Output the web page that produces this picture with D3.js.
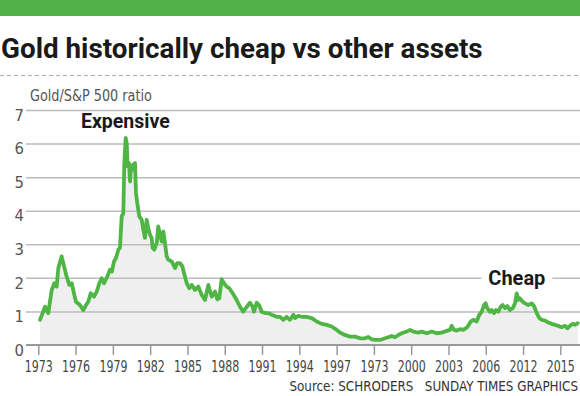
<!DOCTYPE html>
<html>
<head>
<meta charset="utf-8">
<script src="https://cdn.jsdelivr.net/npm/d3@7"></script>
<style>
  html, body { margin: 0; padding: 0; background: #fff; }
  svg { display: block; }
</style>
</head>
<body>
<svg id="chart" width="580" height="396"></svg>
<script>
// ---- Data ----
const title = "Gold historically cheap vs other assets";
const subtitle = "Gold/S&P 500 ratio";
const source = "Source: SCHRODERS\u00a0\u00a0 SUNDAY TIMES GRAPHICS";

const years = [
  1973.14,1973.54,1973.80,1974.08,1974.29,1974.48,1974.61,1974.88,1975.01,1975.28,
  1975.49,1975.69,1975.87,1976.03,1976.35,1976.62,1976.84,1977.02,1977.22,1977.48,
  1977.70,1977.91,1978.10,1978.29,1978.55,1978.77,1978.93,1979.09,1979.25,1979.44,
  1979.57,1979.71,1979.84,1979.92,1980.03,1980.11,1980.19,1980.30,1980.38,1980.46,
  1980.56,1980.64,1980.78,1980.86,1980.96,1981.13,1981.32,1981.45,1981.58,1981.72,
  1981.85,1981.99,1982.12,1982.20,1982.33,1982.53,1982.65,1982.79,1982.93,1983.06,
  1983.19,1983.33,1983.46,1983.73,1984.00,1984.18,1984.40,1984.59,1984.80,1984.94,
  1985.15,1985.34,1985.61,1985.87,1986.15,1986.41,1986.68,1986.95,1987.22,1987.40,
  1987.56,1987.75,1987.94,1988.16,1988.37,1988.64,1988.96,1989.23,1989.49,1989.77,
  1990.03,1990.25,1990.35,1990.57,1990.76,1990.97,1991.24,1991.50,1991.78,1992.18,
  1992.45,1992.71,1992.98,1993.25,1993.52,1993.65,1993.92,1994.19,1994.59,1995.00,
  1995.40,1995.80,1996.20,1996.60,1997.01,1997.27,1997.67,1998.08,1998.48,1998.88,
  1999.28,1999.55,1999.82,2000.22,2000.49,2000.89,2001.16,2001.43,2001.70,2001.96,
  2002.24,2002.64,2002.90,2003.17,2003.57,2003.84,2004.25,2004.65,2005.05,2005.45,
  2005.86,2006.12,2006.26,2006.44,2006.66,2006.93,2007.19,2007.51,2007.79,2008.00,
  2008.27,2008.48,2008.67,2008.86,2008.99,2009.12,2009.34,2009.48,2009.66,2009.82,
  2010.01,2010.20,2010.36,2010.55,2010.73,2010.95,2011.17,2011.35,2011.49,2011.62,
  2011.75,2011.97,2012.16,2012.42,2012.69,2012.88,2013.10,2013.31,2013.50,2013.76,
  2014.03,2014.30,2014.57,2014.83,2015.11,2015.37,2015.56,2015.78,2015.99,2016.18,
  2016.40
];
const ratios = [
  0.75,1.14,0.95,1.64,1.84,1.74,2.29,2.64,2.44,2.04,
  1.79,1.84,1.54,1.29,1.19,1.04,1.19,1.29,1.54,1.44,
  1.59,1.84,1.99,1.84,2.04,2.24,2.19,2.49,2.59,2.84,
  2.89,3.83,3.93,5.42,6.17,6.02,5.32,5.42,4.87,5.32,
  5.22,5.37,5.42,4.53,4.23,3.83,3.73,3.43,3.19,3.73,
  3.48,3.28,3.19,2.89,2.84,3.04,3.53,3.28,3.08,3.38,
  3.04,2.64,2.54,2.49,2.29,2.44,2.44,2.34,2.04,1.84,
  1.69,1.79,1.64,1.74,1.49,1.34,1.79,1.44,1.59,1.36,
  1.39,1.96,1.84,1.74,1.69,1.54,1.34,1.14,0.99,1.14,
  1.26,1.14,0.99,1.26,1.19,0.99,0.95,0.95,0.90,0.84,
  0.84,0.75,0.84,0.75,0.90,0.80,0.87,0.84,0.84,0.80,
  0.70,0.63,0.60,0.55,0.45,0.37,0.30,0.25,0.25,0.20,
  0.20,0.24,0.17,0.15,0.15,0.20,0.23,0.27,0.23,0.30,
  0.35,0.40,0.45,0.40,0.37,0.40,0.35,0.40,0.35,0.37,
  0.42,0.45,0.57,0.45,0.43,0.47,0.45,0.53,0.70,0.75,
  0.70,0.90,0.99,1.19,1.24,1.10,0.99,1.04,0.95,1.04,
  0.99,1.14,1.19,1.10,1.16,1.04,1.10,1.24,1.54,1.34,
  1.39,1.29,1.24,1.19,1.24,1.16,0.95,0.80,0.75,0.73,
  0.67,0.63,0.60,0.57,0.53,0.57,0.50,0.57,0.63,0.60,
  0.65
];
const tickYears = [1973,1976,1979,1982,1985,1988,1991,1994,1997,2000,2003,2006,2009,2012,2015];
const tickLabels = ["1973","1976","1979","1982","1985","1988","1991","1994","1997","1973","2000","2003","2006","2012","2015"];
const yTicks = [0,1,2,3,4,5,6,7];
const annotations = [
  { label: "Expensive", year: 1980.0, value: 6.45, box: false },
  { label: "Cheap", year: 2011.5, value: 1.8, box: true }
];

// ---- Drawing ----
const svg = d3.select("#chart");
const W = 580, H = 396;
const GREEN_BAR = "#52b14b";
const LINE = "#4fb545";
const NARROW = "'DejaVu Sans Condensed', 'Liberation Sans Narrow', sans-serif";
const BOLD = "Roboto, 'Liberation Sans', sans-serif";

const x = d3.scaleLinear().domain([1973, 2016.5]).range([38.3, 579]);
const y = d3.scaleLinear().domain([0, 7]).range([345, 110]);
const gridLeft = 26, gridRight = 580;

const data = years.map((yr, i) => ({ yr, v: ratios[i] }));

// squeeze a text horizontally to a target width (condensed look) with a scale transform
function squeeze(sel, width) {
  sel.each(function () {
    const node = this;
    const w = node.getComputedTextLength();
    const k = w > 0 ? Math.min(1, width / w) : 1;
    const tx = +node.getAttribute("x") || 0;
    node.setAttribute("transform", `translate(${tx * (1 - k)},0) scale(${k},1)`);
  });
}

// top green bar
svg.append("rect").attr("x", 0).attr("y", 0).attr("width", W).attr("height", 16).attr("fill", GREEN_BAR);

// title
svg.append("text").attr("x", 1).attr("y", 57.5)
  .attr("font-family", BOLD).attr("font-weight", 700).attr("font-size", 27.8)
  .attr("fill", "#1a1a1a").text(title);

// dashed separator
svg.append("line").attr("x1", 0).attr("x2", W).attr("y1", 75.5).attr("y2", 75.5)
  .attr("stroke", "#aaa").attr("stroke-width", 1).attr("stroke-dasharray", "4 3");

// subtitle
svg.append("text").attr("x", 30).attr("y", 101.5)
  .attr("font-family", NARROW).attr("font-size", 15.5).attr("fill", "#555").text(subtitle)
  .call(squeeze, 122);

// area fill
const area = d3.area().x(d => x(d.yr)).y0(y(0)).y1(d => y(d.v));
svg.append("path").datum(data).attr("d", area).attr("fill", "#efefef");

// gridlines + y labels
const yAxis = d3.axisLeft(y).tickValues(yTicks).tickSize(-(gridRight - gridLeft)).tickFormat(d3.format("d"));
const gy = svg.append("g").attr("transform", `translate(${gridLeft},0)`).call(yAxis);
gy.select(".domain").remove();
gy.selectAll(".tick line").attr("stroke", "#bdbdbd").attr("stroke-width", 1.5)
  .filter(d => d === 0).remove();
gy.selectAll(".tick text").attr("x", -2).attr("dy", "0.62em")
  .attr("font-family", NARROW).attr("font-size", 16.5).attr("fill", "#555");

// x axis
const xAxis = d3.axisBottom(x).tickValues(tickYears).tickSize(10)
  .tickFormat((d, i) => tickLabels[i]);
const gx = svg.append("g").attr("transform", `translate(0,${y(0)})`).call(xAxis);
gx.select(".domain").remove();
gx.append("line").attr("x1", gridLeft).attr("x2", gridRight).attr("y1", 0).attr("y2", 0)
  .attr("stroke", "#999").attr("stroke-width", 2);
gx.selectAll(".tick line").attr("stroke", "#999").attr("stroke-width", 1.5);
gx.selectAll(".tick text").attr("y", 15).attr("dy", "0.75em")
  .attr("font-family", NARROW).attr("font-size", 15.5).attr("fill", "#444")
  .call(squeeze, 28);

// line
const line = d3.line().x(d => x(d.yr)).y(d => y(d.v));
svg.append("path").datum(data).attr("d", line).attr("fill", "none")
  .attr("stroke", LINE).attr("stroke-width", 3.8)
  .attr("stroke-linejoin", "round").attr("stroke-linecap", "round");

// annotations
annotations.forEach(a => {
  const g = svg.append("g");
  const t = g.append("text").attr("x", x(a.year)).attr("y", y(a.value))
    .attr("text-anchor", "middle")
    .attr("font-family", BOLD).attr("font-weight", 700).attr("font-size", a.box ? 20 : 19.5)
    .attr("fill", "#1a1a1a").text(a.label);
  if (a.box) {
    const b = t.node().getBBox();
    g.insert("rect", "text").attr("x", b.x - 7).attr("y", b.y).attr("width", b.width + 14)
      .attr("height", b.height).attr("fill", "#fff");
  }
});

// source
svg.append("text").attr("x", 578).attr("y", 391).attr("text-anchor", "end")
  .attr("font-family", NARROW).attr("font-size", 14).attr("fill", "#333").text(source)
  .call(squeeze, 289);
</script>
</body>
</html>
